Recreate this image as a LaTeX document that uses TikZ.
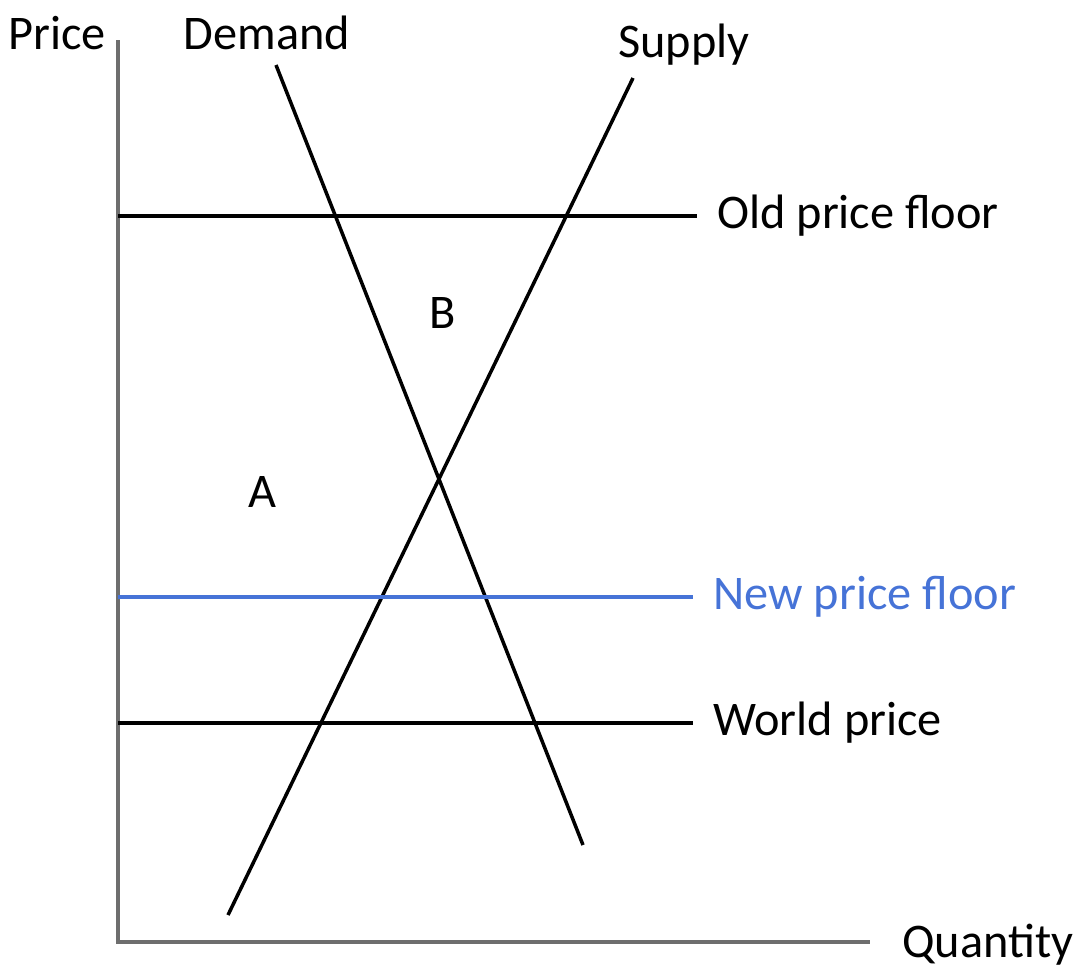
\documentclass[tikz,border=0pt]{standalone}
\usepackage{fontspec}
\setmainfont{Carlito}
\usepackage{tikz}
\usetikzlibrary{positioning,calc}
\definecolor{axisgray}{RGB}{110,110,110}
\definecolor{floorblue}{RGB}{70,115,215}

\begin{document}
\begin{tikzpicture}[x=0.02cm, y=-0.02cm,
  axis/.style={axisgray, line width=1.8pt},
  curve/.style={black, line width=2pt},
  lvl/.style={black, line width=2pt},
  lab/.style={font=\fontsize{27.5}{30}\selectfont, inner sep=0pt},
]
  \useasboundingbox (0,0) rectangle (1086,975);

  % Axes
  \coordinate (O) at (118,942);
  \coordinate (ytop) at (118,40);
  \coordinate (xend) at (870,942);
  \draw[axis] (ytop) -- (O) -- (xend);
  \node[lab] (price) at (57,33) {Price};
  \node[lab, anchor=west] (qty) at (902,945) {Quantity};

  % Demand and supply
  \coordinate (d1) at (276,65);
  \coordinate (d2) at (583,845);
  \coordinate (s1) at (228,915);
  \coordinate (s2) at (633,78);
  \draw[curve] (d1) -- (d2);
  \draw[curve] (s1) -- (s2);
  \node[lab] (demand) at (267,33) {Demand};
  \node[lab] (supply) at (684,45) {Supply};

  % Price levels
  \foreach \y/\e/\c/\txt/\nm in {216/697/black/Old price floor/old,
                             597/693/floorblue/New price floor/new,
                             723/693/black/World price/world}{
    \coordinate (\nm a) at (118,\y);
    \coordinate (\nm b) at (\e,\y);
    \draw[lvl, draw=\c] (\nm a) -- (\nm b);
    \node[lab, text=\c, anchor=west] (\nm lab) at (\e+20,\y) {\txt};
  }

  % Areas
  \node[lab] (areaA) at (262,492) {A};
  \node[lab] (areaB) at (443,313) {B};
\end{tikzpicture}
\end{document}
